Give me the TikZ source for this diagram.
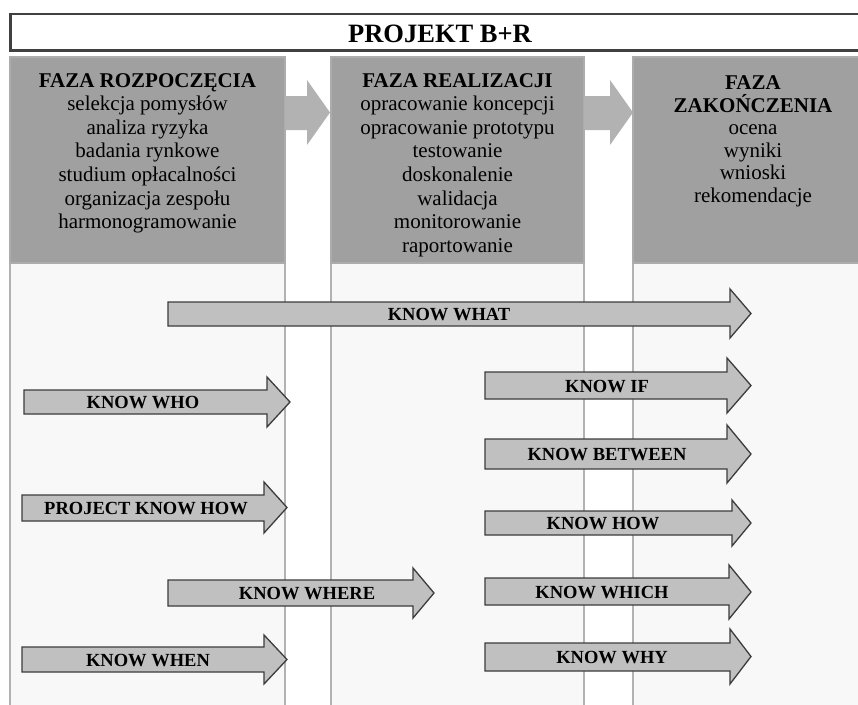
\documentclass[tikz,border=0pt]{standalone}
\usepackage{fontspec}
\setmainfont{Liberation Serif}
\definecolor{hdrgray}{RGB}{160,160,160}
\definecolor{hdredge}{RGB}{172,172,172}
\definecolor{bodyfill}{RGB}{248,248,248}
\definecolor{bodyedge}{RGB}{178,178,178}
\definecolor{phasegray}{RGB}{178,178,178}
\definecolor{karrowfill}{RGB}{192,192,192}
\definecolor{karrowedge}{RGB}{60,60,60}
\definecolor{titleedge}{RGB}{64,64,64}
\begin{document}
\begin{tikzpicture}[x=1pt,y=-1pt,
  colhead/.style={fill=hdrgray, draw=hdredge, line width=1.2pt},
  colbody/.style={fill=bodyfill, draw=bodyedge, line width=1.8pt},
  phasearrow/.style={fill=phasegray, draw=none},
  knowarrow/.style={fill=karrowfill, draw=karrowedge, line width=1.3pt, line join=miter},
  klabel/.style={font=\bfseries\fontsize{18.5}{20}\selectfont, inner sep=0pt, anchor=base},
  phtitle/.style={font=\bfseries\fontsize{21}{22}\selectfont, inner sep=0pt, anchor=base},
  phitem/.style={font=\fontsize{21}{22}\selectfont, inner sep=0pt, anchor=base}
]
\useasboundingbox (0,0) rectangle (858,704);
\clip (0,0) rectangle (858,704);

% title
\draw[draw=titleedge, line width=2.5pt, fill=white] (10.5,14) rectangle (880,50.5);
\node[font=\bfseries\fontsize{26.5}{28}\selectfont, inner sep=0pt, anchor=base] (title) at (440,42.7) {PROJEKT B+R};

% columns
\draw[colbody] (10,263) rectangle (285,720);
\draw[colhead] (10,57) rectangle (285,263);
\draw[colbody] (331,263) rectangle (584,720);
\draw[colhead] (331,57) rectangle (584,263);
\draw[colbody] (633,263) rectangle (880,720);
\draw[colhead] (633,57) rectangle (880,263);

% phase arrows
\fill[phasearrow] (285,96) -- (307,96) -- (307,80) -- (330,112.5) -- (307,145) -- (307,130) -- (285,130) -- cycle;
\fill[phasearrow] (584,96) -- (610,96) -- (610,80) -- (633,112.5) -- (610,145) -- (610,130) -- (584,130) -- cycle;

% column 1 text
\node[phtitle] (c1t) at (147.5,87) {FAZA ROZPOCZĘCIA};
\foreach \t [count=\i] in {selekcja pomysłów, analiza ryzyka, badania rynkowe, studium opłacalności, organizacja zespołu, harmonogramowanie}
  \node[phitem] (c1-\i) at (147.5,87+23.6*\i) {\t};

% column 2 text
\node[phtitle] (c2t) at (457.5,87) {FAZA REALIZACJI};
\foreach \t [count=\i] in {opracowanie koncepcji, opracowanie prototypu, testowanie, doskonalenie, walidacja, monitorowanie, raportowanie}
  \node[phitem] (c2-\i) at (457.5,87+23.6*\i) {\t};

% column 3 text
\node[phtitle] (c3t1) at (753,89) {FAZA};
\node[phtitle] (c3t2) at (753,112) {ZAKOŃCZENIA};
\foreach \t [count=\i] in {ocena, wyniki, wnioski, rekomendacje}
  \node[phitem] (c3-\i) at (753,112+22.5*\i) {\t};

% knowledge arrows: body left, head start, tip, body top, body bottom, head top, head bottom
\newcommand{\kshape}[7]{%
  \draw[knowarrow] (#1,#4) -- (#2,#4) -- (#2,#6) -- (#3,{(#6+#7)/2}) -- (#2,#7) -- (#2,#5) -- (#1,#5) -- cycle;}

\kshape{168}{730}{751}{302}{326}{289}{338}
\node[klabel] (kwhat) at (449,320.5) {KNOW WHAT};

\kshape{24}{267}{290}{390}{414}{377}{427}
\node[klabel] (kwho) at (143,408.5) {KNOW WHO};

\kshape{485}{727}{751}{372}{399}{358}{413}
\node[klabel] (kif) at (607,392) {KNOW IF};

\kshape{485}{727}{751}{439}{469}{425}{483}
\node[klabel] (kbetween) at (607,460.5) {KNOW BETWEEN};

\kshape{22}{264}{287}{495}{521}{482}{533}
\node[klabel] (kpkh) at (146,514.5) {PROJECT KNOW HOW};

\kshape{485}{732}{751}{511}{535}{500}{546}
\node[klabel] (khow) at (603,529.5) {KNOW HOW};

\kshape{168}{413}{434}{580}{606}{568}{618}
\node[klabel] (kwhere) at (307,599.5) {KNOW WHERE};

\kshape{485}{729}{751}{578}{605}{565}{619}
\node[klabel] (kwhich) at (602,598) {KNOW WHICH};

\kshape{22}{264}{287}{647}{672}{635}{684}
\node[klabel] (kwhen) at (148,666) {KNOW WHEN};

\kshape{485}{730}{751}{643}{671}{629}{684}
\node[klabel] (kwhy) at (612,663.5) {KNOW WHY};
\end{tikzpicture}
\end{document}
